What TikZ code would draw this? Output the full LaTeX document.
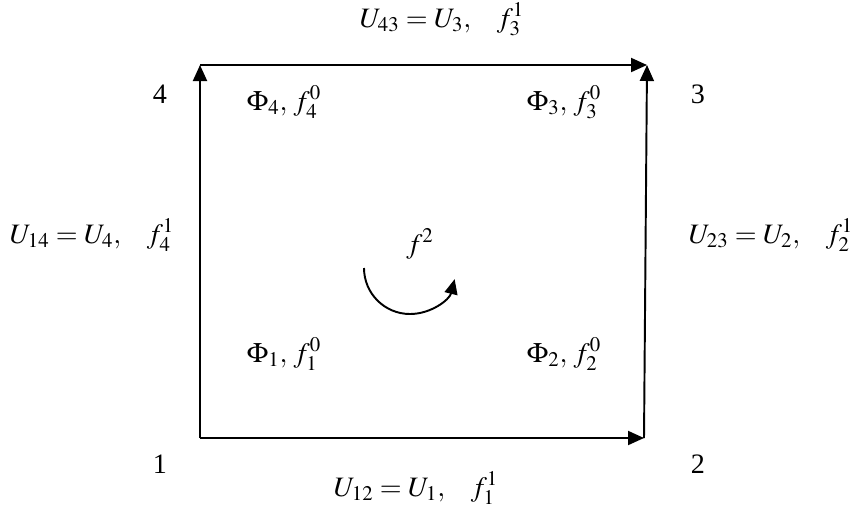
\documentclass[tikz,border=0pt]{standalone}
\usepackage{mathptmx}
\usepackage{fontspec}
\setmainfont{Liberation Serif}
\usetikzlibrary{arrows.meta}

\tikzset{
 edge/.style={line width=1.1pt,-{Triangle[length=3.2mm,width=2.8mm]}},
 lbl/.style={anchor=base,inner sep=0pt,font=\fontsize{16}{19}\selectfont}
}

\begin{document}
\begin{tikzpicture}[x=0.2mm,y=-0.2mm]
\useasboundingbox (0,0) rectangle (853,511);
% corners
 \coordinate (c1) at (200,438);
 \coordinate (c2) at (644,438);
 \coordinate (c3) at (647,65);
 \coordinate (c4) at (200,65);
% edges
 \draw[edge] (c1)--(c2);
 \draw[edge] (c2)--(c3);
 \draw[edge] (c4)--(c3);
 \draw[edge] (c1)--(c4);
% vertex numbers
 \node[lbl] (n1) at (160,473) {1};
 \node[lbl] (n2) at (698,473) {2};
 \node[lbl] (n3) at (698,103) {3};
 \node[lbl] (n4) at (160,103) {4};
% edge labels
 \node[lbl] (u12) at (416,496) {$U_{12}=U_1,\hspace{0.8em} f_1^1$};
 \node[lbl] (u23) at (771,243) {$U_{23}=U_2,\hspace{0.8em} f_2^1$};
 \node[lbl] (u43) at (442,27) {$U_{43}=U_3,\hspace{0.8em} f_3^1$};
 \node[lbl] (u14) at (92,243) {$U_{14}=U_4,\hspace{0.8em} f_4^1$};
% vertex values
 \node[lbl] (p1) at (284,362) {$\Phi_1,\, f_1^0$};
 \node[lbl] (p2) at (564,362) {$\Phi_2,\, f_2^0$};
 \node[lbl] (p3) at (564,110) {$\Phi_3,\, f_3^0$};
 \node[lbl] (p4) at (284,110) {$\Phi_4,\, f_4^0$};
% face
 \node[lbl] (f2) at (420,253) {$f^2$};
 \draw[line width=1.1pt,-{Triangle[length=3mm,width=2.6mm]}] (364,268) arc[start angle=180,end angle=14,radius=46];
\end{tikzpicture}
\end{document}
